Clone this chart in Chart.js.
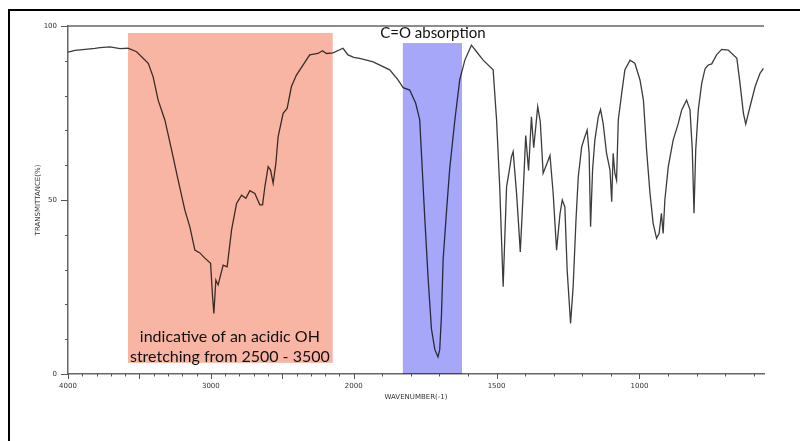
<!DOCTYPE html>
<html><head><meta charset="utf-8">
<script src="https://cdn.jsdelivr.net/npm/chart.js@4"></script>
<style>
html,body{margin:0;padding:0;background:#fff;}
#wrap{position:relative;width:800px;height:441px;overflow:hidden;background:#fff;}
#frame{position:absolute;left:8px;top:9px;width:900px;height:600px;border-left:2px solid #000;border-top:2px solid #000;pointer-events:none;}
canvas{position:absolute;left:0;top:0;}
</style></head><body>
<div id="wrap"><canvas id="c" width="800" height="441"></canvas><div id="frame"></div></div>
<script>
// ---- data ----
const wavenumbers = [4000,3951,3881,3811,3776,3706,3636,3580,3520,3438,3404,3369,3322,3275,3229,3182,3147,3112,3077,3042,3002,2988,2979,2965,2949,2914,2886,2855,2820,2785,2755,2727,2692,2657,2638,2622,2599,2582,2564,2545,2529,2494,2466,2436,2401,2354,2308,2250,2219,2191,2145,2075,2040,2000,1979,1932,1874,1845,1827,1804,1783,1769,1763,1751,1745,1740,1728,1716,1705,1699,1693,1687,1675,1664,1646,1629,1611,1588,1570,1547,1512,1500,1489,1481,1477,1471,1465,1457,1448,1442,1430,1421,1417,1407,1398,1388,1378,1370,1356,1347,1337,1326,1313,1302,1290,1278,1270,1261,1253,1241,1232,1222,1214,1202,1191,1183,1176,1171,1164,1156,1144,1136,1127,1115,1103,1097,1092,1086,1080,1074,1062,1051,1033,1016,998,986,975,963,952,940,931,923,917,911,899,882,864,852,835,823,815,809,803,794,782,770,759,747,730,712,689,659,648,636,628,613,595,578,566];
const transmittance = [92.5,93,93.3,93.6,93.8,94,93.5,93.6,92.6,89.3,85.4,78.7,73,64.4,55.7,47.1,42.3,35.6,34.8,33.3,31.8,22.2,17.4,27,25.6,31.3,30.8,41.4,49,51.4,50.5,52.7,51.9,48.6,48.6,53.8,59.6,58.6,54.8,60.5,68.2,74.9,76.3,82.6,85.9,88.8,91.7,92.1,92.9,92.1,92.3,93.6,91.7,91,90.7,89.7,87.4,84.5,82.3,81.6,77.8,73,63.5,44.3,35.6,28,13,7,4.9,7,16.5,33,47,59,73,84.5,90.2,94.5,92.6,90.2,87.4,73,53.8,34.7,25.1,39.5,53.8,57.7,62.4,63.9,51.9,40.4,35.1,51.9,68.5,58.5,73.9,65,76.8,72.5,57.7,60,62.8,52,35.6,46,50,48,30,14.5,25.1,44.3,56.7,65.3,68.2,70.1,63.4,42.3,58.6,67.2,73.9,76,72,63.4,58.6,49.5,63.4,57.7,55.7,73,80.7,87.4,90.2,89.3,84.5,78.7,64.4,51.9,43.3,39,40.4,46.2,40.4,50,59.6,67.2,72,75.9,78.7,75.9,64.4,46.2,64.4,75.9,83.5,87.8,88.8,89.1,91.7,93.3,93.1,90.7,83.5,74.9,71.8,76.8,82.6,86.4,87.8];
const xTickLabels = [4000, 3000, 2000, 1500, 1000];
const yTickLabels = [0, 50, 100];
const xRange = [4000, 564];
const ohBandWn = [3580, 2147];
const ohBandT = [3.2, 98];
const coBandWn = [1828, 1621];
const coBandT = [0, 95.1];
const coLabel = 'C=O absorption';
const coLabelAt = [1723, 98];
const ohLabel = ['indicative of an acidic OH', 'stretching from 2500 - 3500'];
const ohLabelAt = [2867, 10.6, 4.9];

// piecewise wavenumber axis: 4000-2000 compressed, 2000-low expanded x2
function toAxis(wn){ return wn >= 2000 ? 4000 - wn : 2000 + 2 * (2000 - wn); }
function fromAxis(u){ return u <= 2000 ? 4000 - u : 2000 - (u - 2000) / 2; }

const points = wavenumbers.map((w, i) => ({x: toAxis(w), y: transmittance[i]}));

const decorPlugin = {
  id: 'decor',
  afterDatasetsDraw(chart){
    const {ctx, scales:{x, y}} = chart;
    ctx.save();
    ctx.globalCompositeOperation = 'multiply';
    const box = (wn, t, color) => {
      const x0 = x.getPixelForValue(toAxis(wn[0])), x1 = x.getPixelForValue(toAxis(wn[1]));
      const y0 = y.getPixelForValue(t[1]), y1 = y.getPixelForValue(t[0]);
      ctx.fillStyle = color;
      ctx.fillRect(x0, y0, x1 - x0, y1 - y0);
    };
    box(ohBandWn, ohBandT, '#f9b5a4');
    box(coBandWn, coBandT, '#a7a7f9');
    ctx.restore();
    ctx.save();
    ctx.fillStyle = '#111';
    ctx.textAlign = 'center';
    ctx.textBaseline = 'middle';
    ctx.font = '15px Lato';
    ctx.fillText(coLabel, x.getPixelForValue(toAxis(coLabelAt[0])), y.getPixelForValue(coLabelAt[1]));
    ctx.font = '16px Lato';
    const ox = x.getPixelForValue(toAxis(ohLabelAt[0]));
    ctx.fillText(ohLabel[0], ox, y.getPixelForValue(ohLabelAt[1]));
    ctx.fillText(ohLabel[1], ox, y.getPixelForValue(ohLabelAt[2]));
    ctx.restore();
  },
  afterDraw(chart){
    const {ctx, chartArea:a, scales:{x, y}} = chart;
    ctx.save();
    ctx.strokeStyle = '#666';
    ctx.lineWidth = 1.5;
    ctx.beginPath();
    ctx.moveTo(a.left, a.top); ctx.lineTo(a.right, a.top);
    ctx.stroke();
    ctx.lineWidth = 1;
    ctx.strokeStyle = '#555';
    ctx.beginPath();
    for (let w = 4000; w >= 600; w -= 100){
      const px = Math.round(x.getPixelForValue(toAxis(w))) + 0.5;
      const len = w % 500 === 0 ? 5 : 2.5;
      ctx.moveTo(px, a.bottom); ctx.lineTo(px, a.bottom + len);
    }
    for (let t = 0; t <= 100; t += 10){
      const py = Math.round(y.getPixelForValue(t)) + 0.5;
      const len = t % 50 === 0 ? 7 : 3;
      ctx.moveTo(a.left, py); ctx.lineTo(a.left - len, py);
    }
    ctx.stroke();
    ctx.restore();
  }
};

new Chart(document.getElementById('c'), {
  type: 'line',
  data: { datasets: [{
    data: points, parsing: false,
    borderColor: '#3c3c3c', borderWidth: 1.3, pointRadius: 0, tension: 0, fill: false
  }]},
  options: {
    responsive: false, devicePixelRatio: 1, animation: false,
    layout: { padding: { left: 0, right: 36, top: 26, bottom: 0 } },
    plugins: { legend: { display: false }, tooltip: { enabled: false } },
    scales: {
      x: {
        type: 'linear', min: toAxis(xRange[0]), max: toAxis(xRange[1]),
        afterFit: s => { s.height = 67; },
        afterBuildTicks: s => {
          const t = [];
          for (let w = 4000; w >= 600; w -= 100) t.push({value: toAxis(w)});
          s.ticks = t;
        },
        grid: { display: true, drawOnChartArea: false, drawTicks: false },
        border: { display: true, color: '#666', width: 1.5 },
        ticks: {
          autoSkip: false, maxRotation: 0, padding: 8, color: '#333',
          font: { family: 'DejaVu Sans', size: 7 },
          callback: v => { const w = Math.round(fromAxis(v)); return xTickLabels.includes(w) ? String(w) : ''; }
        },
        title: { display: true, text: 'WAVENUMBER(-1)', color: '#333',
          font: { family: 'DejaVu Sans', size: 7 }, padding: { bottom: 40 } }
      },
      y: {
        min: 0, max: 100,
        afterFit: s => { s.width = 68; },
        afterBuildTicks: s => {
          const t = [];
          for (let v = 0; v <= 100; v += 10) t.push({value: v});
          s.ticks = t;
        },
        grid: { display: true, drawOnChartArea: false, drawTicks: false },
        border: { display: true, color: '#666', width: 1.5 },
        ticks: {
          padding: 11, color: '#333', font: { family: 'DejaVu Sans', size: 7 },
          callback: v => yTickLabels.includes(v) ? String(v) : ''
        },
        title: { display: true, text: 'TRANSMITTANCE(%)', color: '#333',
          font: { family: 'DejaVu Sans', size: 7 }, padding: { top: 34 } }
      }
    }
  },
  plugins: [decorPlugin]
});
</script>
</body></html>
